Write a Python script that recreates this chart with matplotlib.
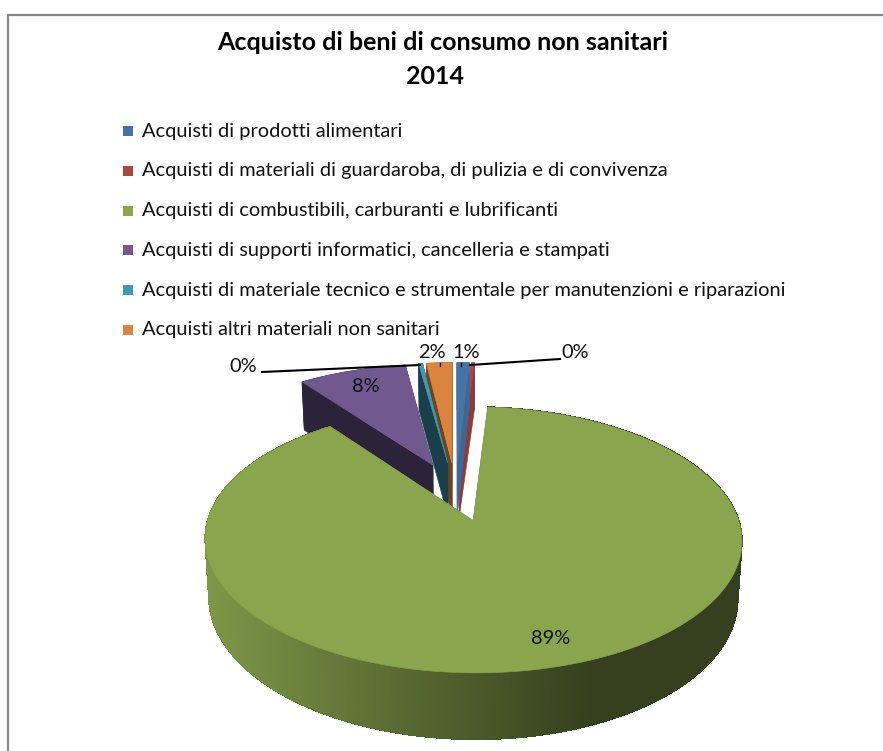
import numpy as np
import matplotlib
matplotlib.use('Agg')
import matplotlib.pyplot as plt
from matplotlib.patches import Polygon, Rectangle

# Spending shares, percent
categories = ['Acquisti di prodotti alimentari',
              'Acquisti di materiali di guardaroba, di pulizia e di convivenza',
              'Acquisti di combustibili, carburanti e lubrificanti',
              'Acquisti di supporti informatici, cancelleria e stampati',
              'Acquisti di materiale tecnico e strumentale per manutenzioni e riparazioni',
              'Acquisti altri materiali non sanitari']
values = [0.9, 0.25, 88.75, 7.9, 0.3, 1.9]
top_colors = ['#4572a7', '#aa4643', '#89a54e', '#71588f', '#4198af', '#db843d']
wall_colors = ['#3f6796', '#8e3a38', '#5f7136', '#2c2239', '#1a3f4b', '#6b4420']

plt.rcParams['font.family'] = ['Lato', 'DejaVu Sans']

# 3D pie settings
EXPLODE = 0.24
PERSP = 0.14
CX, CY = 455.5, 491.5
RX, RY = 257, 122
DEPTH = 55


def project(x, y, z=0.0):
    # plane coordinates to pixels, far side shrinks
    w = 1 + PERSP * y
    sx = CX + RX * x / (w * (1 + 0.015 * z))
    sy = CY - RY * y / w + DEPTH * z / w
    return sx, sy


def wedge_points(a0, a1, step=0.5):
    n = max(2, int((a1 - a0) / step) + 1)
    ang = np.radians(np.linspace(a0, a1, n))
    mid = np.radians((a0 + a1) / 2)
    ox, oy = EXPLODE * np.sin(mid), EXPLODE * np.cos(mid)
    return ox, oy, ox + np.sin(ang), oy + np.cos(ang)


def quad(ax, p, color, zorder, aa=True):
    ax.add_patch(Polygon(p, closed=True, facecolor=color, edgecolor=color, lw=0.4,
                         zorder=zorder, antialiased=aa))


def green_shade(sx):
    # rim of the big slice gets darker from left to right
    t = np.clip((sx - 204) / (590 - 204), 0, 1)
    c0 = np.array([0x7d, 0x97, 0x48]) / 255
    c1 = np.array([0x36, 0x40, 0x1e]) / 255
    return tuple(c0 + (c1 - c0) * t)


def draw_slice(ax, a0, a1, top, wall, zorder, shaded=False):
    ox, oy, xs, ys = wedge_points(a0, a1)
    # cut faces
    for ex, ey in [(xs[0], ys[0]), (xs[-1], ys[-1])]:
        quad(ax, [project(ox, oy), project(ex, ey), project(ex, ey, 1), project(ox, oy, 1)], wall, zorder)
    # rim
    for i in range(len(xs) - 1):
        p = [project(xs[i], ys[i]), project(xs[i + 1], ys[i + 1]),
             project(xs[i + 1], ys[i + 1], 1), project(xs[i], ys[i], 1)]
        color = green_shade(p[0][0]) if shaded else wall
        quad(ax, p, color, zorder, aa=not shaded)
    # top face
    outline = [project(ox, oy)] + [project(x, y) for x, y in zip(xs, ys)]
    quad(ax, outline, top, zorder + 0.5)


fig = plt.figure(figsize=(8.83, 7.51), dpi=100)
ax = fig.add_axes([0, 0, 1, 1])
ax.set_xlim(0, 883)
ax.set_ylim(751, 0)
ax.axis('off')

# chart border
ax.plot([8, 8, 883], [751, 15, 15], color='#868686', lw=1.6, solid_capstyle='butt', zorder=1)

# title
ax.text(443, 43, 'Acquisto di beni di consumo non sanitari', ha='center', va='center',
        fontsize=18, fontweight='bold', color='black')
ax.text(435, 77, '2014', ha='center', va='center', fontsize=18, fontweight='bold', color='black')

# legend
for i, name in enumerate(categories):
    y = 131 + 39.8 * i
    ax.add_patch(Rectangle((123, y - 5), 10, 10, facecolor=top_colors[i], edgecolor='none'))
    ax.text(142, y, name, ha='left', va='center', fontsize=14.45, color='#111111')

# slices, clockwise from twelve o'clock
edges = np.concatenate([[0], np.cumsum(values)]) * 360 / sum(values)
order = [3, 5, 4, 1, 0, 2]
for n, i in enumerate(order):
    draw_slice(ax, edges[i], edges[i + 1], top_colors[i], wall_colors[i], 5 + n, shaded=(i == 2))

# leader lines
ax.plot([262, 420], [372, 365], color='black', lw=1.5, zorder=20)
ax.plot([470, 560], [365, 359], color='black', lw=1.5, zorder=20)
ax.plot([440, 440], [363, 366], color='black', lw=1, zorder=20)
ax.plot([461, 461], [363, 366], color='black', lw=1, zorder=20)

# data labels
label_pos = [(466, 352), (575, 353), (551, 639), (366, 387), (243, 367), (432, 352)]
for v, (lx, ly) in zip(values, label_pos):
    ax.text(lx, ly, f'{v:.0f}%', ha='center', va='center', fontsize=14.45, color='#111111', zorder=21)

fig.savefig('out.png', dpi=100)
